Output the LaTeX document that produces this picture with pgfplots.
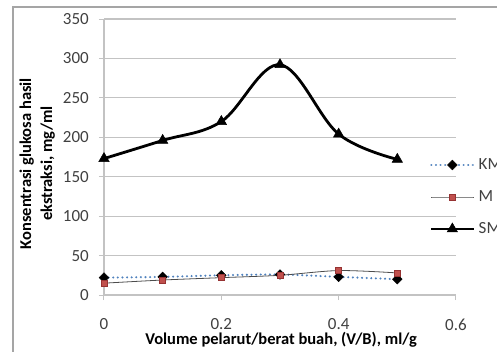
\documentclass[border=0pt]{standalone}
\usepackage{pgfplots}
\pgfplotsset{compat=1.18}
\usepackage{fontspec}
\setmainfont{Carlito}
\definecolor{gridc}{RGB}{195,195,195}
\definecolor{framec}{RGB}{165,165,165}
\definecolor{kmblue}{RGB}{79,129,189}
\definecolor{mred}{RGB}{192,80,77}
\definecolor{mredd}{RGB}{150,50,50}
\begin{document}
\begin{tikzpicture}
\path[use as bounding box] (-104pt,-56pt) rectangle (393pt,295pt);
\clip (-104pt,-56pt) rectangle (393pt,295pt);
\draw[framec, line width=1.5pt] (-91pt,-80pt) rectangle (420pt,288pt);
\begin{axis}[
  at={(0pt,0pt)}, anchor=south west,
  scale only axis, width=352pt, height=276pt,
  xmin=0, xmax=0.6, ymin=0, ymax=350,
  xtick={0,0.2,0.4,0.6}, ytick={0,50,...,350},
  axis lines=left, axis line style={-, gridc, line width=1.2pt},
  ymajorgrids, grid style={gridc, line width=1.2pt},
  tick align=outside, major tick length=5pt,
  tick style={gridc, line width=1pt},
  /pgf/number format/assume math mode=true,
  ticklabel style={font=\fontsize{17}{20}\selectfont, text=black!75},
  xticklabel style={anchor=north, inner sep=0pt, yshift=-18.5pt},
  yticklabel style={anchor=east, inner sep=0pt, xshift=-10pt},
  xlabel={Volume pelarut/berat buah, (V/B), ml/g},
  ylabel={Konsentrasi glukosa hasil\\ekstraksi, mg/ml},
  label style={font=\fontsize{16.5}{21}\selectfont\bfseries},
  xlabel style={at={(axis description cs:0.503,-0.163)}, anchor=center},
  ylabel style={at={(axis description cs:-0.19,0.476)}, anchor=center, align=center},
  legend cell align=left,
  legend style={draw=none, fill=none, at={(0.926,0.529)}, anchor=north west,
    inner sep=0pt, outer sep=0pt, row sep=0pt, column sep=4pt,
    font=\fontsize{17}{20}\selectfont,
    nodes={inner sep=0pt, text height=21pt, text depth=11pt, text=black!75}},
  legend image code/.code={\draw[mark repeat=2,mark phase=2] plot coordinates {(0pt,0pt) (21pt,0pt) (42pt,0pt)};},
]
\addplot[kmblue, line width=2.3pt, line cap=round, dash pattern=on 0.01pt off 4.6pt, smooth,
  mark=square*, mark size=3.4pt, mark options={solid, black, fill=black, rotate=45, line width=0.5pt}]
  coordinates {(0,22) (0.1,23) (0.2,25) (0.3,26) (0.4,23) (0.5,20)};
\addlegendentry{KM}
\addplot[black!70, line width=0.8pt, smooth,
  mark=square*, mark size=3pt, mark options={solid, draw=mredd, fill=mred, line width=0.6pt}]
  coordinates {(0,15) (0.1,19) (0.2,22) (0.3,25) (0.4,31) (0.5,28)};
\addlegendentry{M}
\addplot[black, line width=2.8pt, smooth, tension=0.6,
  mark=triangle*, mark size=6pt, mark options={solid, black, fill=black, line width=0.5pt}]
  coordinates {(0,173) (0.1,196) (0.2,220) (0.3,292) (0.4,204) (0.5,172)};
\addlegendentry{SM}
\end{axis}
\end{tikzpicture}
\end{document}
